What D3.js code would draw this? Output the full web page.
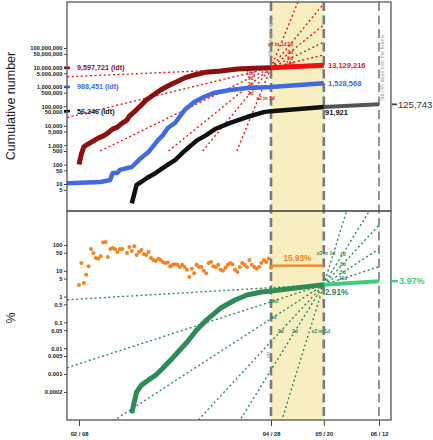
<!DOCTYPE html>
<html>
<head>
<meta charset="utf-8">
<script src="https://cdn.jsdelivr.net/npm/d3@7/dist/d3.min.js"></script>
<style>
html,body{margin:0;padding:0;background:#fff;}
svg{display:block;font-family:"Liberation Sans",Arial,sans-serif;}
</style>
</head>
<body>
<svg id="chart" width="433" height="440"></svg>
<script>
// ---------------- DATA ----------------
const casesDates = ["2020-02-08","2020-02-09","2020-02-10","2020-02-11","2020-02-13","2020-02-16","2020-02-18","2020-02-20","2020-02-22","2020-02-24","2020-02-26","2020-02-28","2020-02-29","2020-03-02","2020-03-05","2020-03-07","2020-03-10","2020-03-13","2020-03-16","2020-03-18","2020-03-20","2020-03-23","2020-03-27","2020-04-01","2020-04-07","2020-04-14","2020-04-21","2020-04-28"];
const casesValues = [100,350,800,1000,1400,2300,2900,4200,6700,8500,13500,19600,31000,51000,117000,210000,380000,690000,1100000,1500000,1900000,2900000,4100000,5700000,6600000,8300000,9000000,9597721];
const casesProjDates = ["2020-04-28","2020-05-20"];
const casesProjValues = [9597721,13129216];

const recovDates = ["2020-02-03","2020-02-17","2020-02-21","2020-02-22","2020-02-24","2020-02-25","2020-03-01","2020-03-04","2020-03-08","2020-03-12","2020-03-14","2020-03-16","2020-03-19","2020-03-23","2020-03-27","2020-03-31","2020-04-04","2020-04-11","2020-04-18","2020-04-28","2020-05-20"];
const recovValues = [11,12.6,16,37,37,53,75,175,450,1860,3300,7600,13800,64000,166000,300000,480000,690000,870000,988451,1528568];

const deathDates = ["2020-03-01","2020-03-02","2020-03-03","2020-03-05","2020-03-08","2020-03-11","2020-03-14","2020-03-19","2020-03-23","2020-03-28","2020-04-01","2020-04-05","2020-04-11","2020-04-18","2020-04-25","2020-04-28","2020-05-20"];
const deathValues = [1,3,9,13,23,37,67,170,500,1700,3300,7000,14000,28000,50000,56246,91921];
const deathProjDates = ["2020-05-20","2020-06-12"];
const deathProjValues = [91921,125743];

const ratioDates = ["2020-03-01","2020-03-02","2020-03-03","2020-03-05","2020-03-08","2020-03-11","2020-03-14","2020-03-18","2020-03-21","2020-03-24","2020-03-28","2020-04-01","2020-04-07","2020-04-13","2020-04-18","2020-04-24","2020-04-28","2020-05-20"];
const ratioValues = [0.00003,0.00008,0.0002,0.00037,0.00059,0.00091,0.0017,0.0042,0.0085,0.017,0.051,0.12,0.36,0.74,1.15,1.5,1.65,2.91];
const ratioProjDates = ["2020-05-20","2020-06-12"];
const ratioProjValues = [2.91,3.97];

const growthStart = "2020-02-08";
const growthValues = [2.8,20,3.4,7,15,70,49,31,29,37,
  126,130,34,70,76,70,54,70,70,null,
  49,83,58,90,41,54,64,45,41,54,
  31,26,24,29,26,22,20,21,15,17,
  18,17,14,17,14,11,5.7,12,8,17,
  14,14,10,8,
  20,22,15,14,17,11,10,13,17,20,
  18,11,9,14,20,17,14,26,17,14,
  12,14,20,26,22,30,13];
const growthMeanDates = ["2020-04-28","2020-05-20"];
const growthMeanValue = 15.93;

const ldtLabels = ["9,597,721 (ldt)","988,451 (ldt)","56,246 (ldt)"];
const ldtValues = [9597721,988451,56246];

const doublingDays = [1,2,3,5,10,55];
const labelledDoubling = [1,2,3,5,10];

const topTickValues = [1e8,5e7,1e7,5e6,1e6,5e5,1e5,5e4,1e4,5e3,1e3,500,100,50,10,5];
const topTickLabels = ["100,000,000","50,000,000","10,000,000","5,000,000","1,000,000","500,000","100,000","50,000","10,000","5,000","1,000","500","100","50","10","5"];
const botTickValues = [100,50,10,5,1,0.5,0.1,0.05,0.01,0.005,0.001,0.0002];
const botTickLabels = ["100","50","10","5","1","0.5","0.1","0.05","0.01","0.005","0.001","0.0002"];
const xTickDates = ["2020-02-08","2020-04-28","2020-05-20","2020-06-12"];
const xTickLabels = ["02 / 08","04 / 28","05 / 20","06 / 12"];

// ---------------- SETUP ----------------
const P = d3.utcParse("%Y-%m-%d");
const DAY = 864e5;
const L=67, R=391, T1=2, B1=211, T2=211, B2=420;

const x = d3.scaleUtc().domain([P("2020-02-08"), P("2020-06-12")]).range([79,379]);
const yTop = d3.scaleLog().domain([10,1e8]).range([184,48]);
const yBot = d3.scaleLog().domain([0.001,100]).range([374,245]);

const C = {
  dred:"#8b1010", red:"#f01010", blue:"#4169e1", black:"#111111", gray:"#555555",
  green:"#2e8b57", lgreen:"#3fcf7f", orange:"#f5821f", band:"#f7efbf", vline:"#7a7a7a"
};

const svg = d3.select("#chart");
const defs = svg.append("defs");
defs.append("clipPath").attr("id","clipTop").append("rect")
  .attr("x",L).attr("y",T1).attr("width",R-L).attr("height",B1-T1);
defs.append("clipPath").attr("id","clipBot").append("rect")
  .attr("x",L).attr("y",T2).attr("width",R-L).attr("height",B2-T2);

const ldtDate = P("2020-04-28"), endDate = P("2020-05-20"), futDate = P("2020-06-12");
const leftDate = x.invert(L);

// band
svg.append("rect").attr("x",x(ldtDate)).attr("y",T1)
  .attr("width",x(endDate)-x(ldtDate)).attr("height",B2-T1).attr("fill",C.band);

// vertical dashed lines
[[ldtDate,2.6,"9,4.5"],[endDate,2.6,"9,4.5"],[futDate,1.6,"9,4.5"]].forEach(([d,w,da])=>{
  svg.append("line").attr("x1",x(d)).attr("x2",x(d)).attr("y1",T1).attr("y2",B2)
    .attr("stroke",C.vline).attr("stroke-width",w).attr("stroke-dasharray",da);
});

const gTop = svg.append("g").attr("clip-path","url(#clipTop)");
const gBot = svg.append("g").attr("clip-path","url(#clipBot)");

// ---------------- DOUBLING LINES ----------------
function seg(g, y, t0, v0, d, a, b, color){
  const p = days => [x(new Date(+t0 + days*DAY)), y(v0*Math.pow(2, days/d))];
  const A = p(a), B = p(b);
  g.append("line").attr("x1",A[0]).attr("y1",A[1]).attr("x2",B[0]).attr("y2",B[1])
    .attr("stroke",color).attr("stroke-width",1.4).attr("stroke-dasharray","2,2.6");
}
function dlabel(g, y, t0, v0, d, days, color, dx, dy, anchor){
  const px = x(new Date(+t0 + days*DAY)), py = y(v0*Math.pow(2, days/d));
  g.append("text").attr("x",px+dx).attr("y",py+dy).attr("text-anchor",anchor)
    .attr("dominant-baseline","central").attr("font-size",5).attr("font-weight","bold")
    .attr("fill",color).text(d===1 ? "x2 in 1d" : d+"d");
}

const v0 = casesProjValues[0];
const v1 = ratioProjValues[0];
const leftDaysTop = (leftDate - ldtDate)/DAY;
const leftDaysBot = (leftDate - endDate)/DAY;
doublingDays.forEach(d=>{
  const a = Math.max(-d*Math.log2(v0/500), leftDaysTop);
  seg(gTop, yTop, ldtDate, v0, d, a, 0, "#e81818");
  seg(gTop, yTop, ldtDate, v0, d, 0, (endDate-ldtDate)/DAY, "#e81818");
  seg(gBot, yBot, endDate, v1, d, leftDaysBot, 0, C.green);
  seg(gBot, yBot, endDate, v1, d, 0, (futDate-endDate)/DAY, C.green);
});
labelledDoubling.forEach(d=>{
  const one = d===1;
  dlabel(gTop, yTop, ldtDate, v0, d, -Math.min(8.5, 4.5*d), "#e01515", one?-4:0, one?4:0, one?"start":"middle");
  dlabel(gTop, yTop, ldtDate, v0, d, Math.min(8, 4*d), "#e01515", one?6:0, 0, one?"end":"middle");
  dlabel(gBot, yBot, endDate, v1, d, -Math.min(21, 6*d), C.green, one?2:0, 0, one?"start":"middle");
  dlabel(gBot, yBot, endDate, v1, d, Math.min(8, 4*d), C.green, one?2:0, one?-1:0, one?"end":"middle");
});

// ---------------- MAIN LINES ----------------
function series(dates, vals){ return dates.map((d,i)=>({t:P(d), v:vals[i]})); }
const lineTop = d3.line().x(d=>x(d.t)).y(d=>yTop(d.v)).defined(d=>d.v!=null);
const lineBot = d3.line().x(d=>x(d.t)).y(d=>yBot(d.v)).defined(d=>d.v!=null);
function draw(g, gen, data, color, w){
  g.append("path").datum(data).attr("d",gen).attr("fill","none")
    .attr("stroke",color).attr("stroke-width",w)
    .attr("stroke-linejoin","round").attr("stroke-linecap","butt");
}
draw(gTop, lineTop, series(deathProjDates, deathProjValues), C.gray, 4);
draw(gTop, lineTop, series(deathDates, deathValues), C.black, 4.5);
draw(gTop, lineTop, series(recovDates, recovValues), C.blue, 4.5);
draw(gTop, lineTop, series(casesDates, casesValues), C.dred, 5);
draw(gTop, lineTop, series(casesProjDates, casesProjValues), C.red, 5);

draw(gBot, lineBot, series(ratioProjDates, ratioProjValues), C.lgreen, 4);
draw(gBot, lineBot, series(ratioDates, ratioValues), C.green, 5);

// growth dots
const g0 = P(growthStart);
const growth = growthValues.map((v,i)=>({t:d3.utcDay.offset(g0,i), v:v})).filter(d=>d.v!=null);
gBot.selectAll("circle.gr").data(growth).join("circle").attr("class","gr")
  .attr("cx",d=>x(d.t)).attr("cy",d=>yBot(d.v)).attr("r",2).attr("fill",C.orange);
gBot.append("line").attr("x1",x(P(growthMeanDates[0]))).attr("x2",x(P(growthMeanDates[1])))
  .attr("y1",yBot(growthMeanValue)).attr("y2",yBot(growthMeanValue))
  .attr("stroke",C.orange).attr("stroke-width",2.2);

// ---------------- TEXT LABELS ----------------
const ldtColors = [C.dred, C.blue, C.black];
ldtValues.forEach((v,i)=>{
  const yy = yTop(v);
  svg.append("line").attr("x1",64).attr("x2",70).attr("y1",yy).attr("y2",yy)
    .attr("stroke",ldtColors[i]).attr("stroke-width",2.6);
  svg.append("text").attr("x",77).attr("y",yy).attr("dominant-baseline","central")
    .attr("font-size",7.2).attr("font-weight","bold").attr("fill",ldtColors[i]).text(ldtLabels[i]);
});
function txt(xx,yy,s,size,color,opts={}){
  const t = svg.append("text").attr("x",xx).attr("y",yy).attr("dominant-baseline","central")
    .attr("font-size",size).attr("fill",color).text(s);
  if(opts.bold!==false) t.attr("font-weight","bold");
  if(opts.anchor) t.attr("text-anchor",opts.anchor);
  return t;
}
const fmt = d3.format(",");
txt(328, yTop(casesProjValues[1]), fmt(casesProjValues[1]), 7.5, C.red);
txt(328, yTop(recovValues[recovValues.length-1]), fmt(recovValues[recovValues.length-1]), 7.5, C.blue);
txt(325, yTop(deathProjValues[0])+5.5, fmt(deathProjValues[0]), 7.5, C.black);
svg.append("line").attr("x1",392).attr("x2",397).attr("y1",yTop(deathProjValues[1])).attr("y2",yTop(deathProjValues[1]))
  .attr("stroke","#444").attr("stroke-width",1.8);
txt(398, yTop(deathProjValues[1]), fmt(deathProjValues[1]), 9.5, "#333", {bold:false});

txt((x(P(growthMeanDates[0]))+x(P(growthMeanDates[1])))/2, yBot(growthMeanValue)-7.5, growthMeanValue.toFixed(2)+"%", 8.2, C.orange, {anchor:"middle"});
txt(325, yBot(ratioProjValues[0])+8, ratioProjValues[0].toFixed(2)+"%", 8.2, C.green);
svg.append("line").attr("x1",392).attr("x2",398).attr("y1",yBot(ratioProjValues[1])).attr("y2",yBot(ratioProjValues[1]))
  .attr("stroke",C.lgreen).attr("stroke-width",2.4);
txt(399, yBot(ratioProjValues[1]), ratioProjValues[1].toFixed(2)+"%", 9, C.lgreen);

// rotated gray notes
function rot(xx,yy,s,size){
  svg.append("text").attr("transform",`translate(${xx},${yy}) rotate(-90)`)
    .attr("text-anchor","middle").attr("font-size",size).attr("fill","#9a9a9a").text(s);
}
rot(x(ldtDate)+0.5, 38, "[ldt+0 days ago]", 5.6);
rot(x(futDate)+5, 68, "[ldt+45 days into the future", 5.6);
rot(x(ldtDate)-1, 355, "ldt", 5.6);

// ---------------- AXES ----------------
function styleAxis(g){
  g.select(".domain").remove();
  g.selectAll(".tick line").attr("stroke","#444").attr("stroke-width",1);
  g.selectAll(".tick text").attr("font-size",5.8).attr("font-weight","bold").attr("fill","#222")
    .attr("font-family","'Liberation Sans',Arial,sans-serif");
}
svg.append("g").attr("transform",`translate(${L},0)`)
  .call(d3.axisLeft(yTop).tickValues(topTickValues).tickFormat((d,i)=>topTickLabels[i]).tickSize(3).tickPadding(1.5))
  .call(styleAxis);
svg.append("g").attr("transform",`translate(${L},0)`)
  .call(d3.axisLeft(yBot).tickValues(botTickValues).tickFormat((d,i)=>botTickLabels[i]).tickSize(3).tickPadding(1.5))
  .call(styleAxis);
svg.append("g").attr("transform",`translate(0,${B2})`)
  .call(d3.axisBottom(x).tickValues(xTickDates.map(P)).tickFormat((d,i)=>xTickLabels[i]).tickSize(6).tickPadding(6))
  .call(styleAxis);

// frames
[[T1,B1],[T2,B2]].forEach(([a,b])=>{
  svg.append("rect").attr("x",L).attr("y",a).attr("width",R-L).attr("height",b-a)
    .attr("fill","none").attr("stroke","#555").attr("stroke-width",1.3);
});

// axis titles
svg.append("text").attr("transform","translate(15,106) rotate(-90)").attr("text-anchor","middle")
  .attr("font-size",12.5).attr("fill","#222").text("Cumulative number");
svg.append("text").attr("transform","translate(15,318) rotate(-90)").attr("text-anchor","middle")
  .attr("font-size",12.5).attr("fill","#222").text("%");
</script>
</body>
</html>
